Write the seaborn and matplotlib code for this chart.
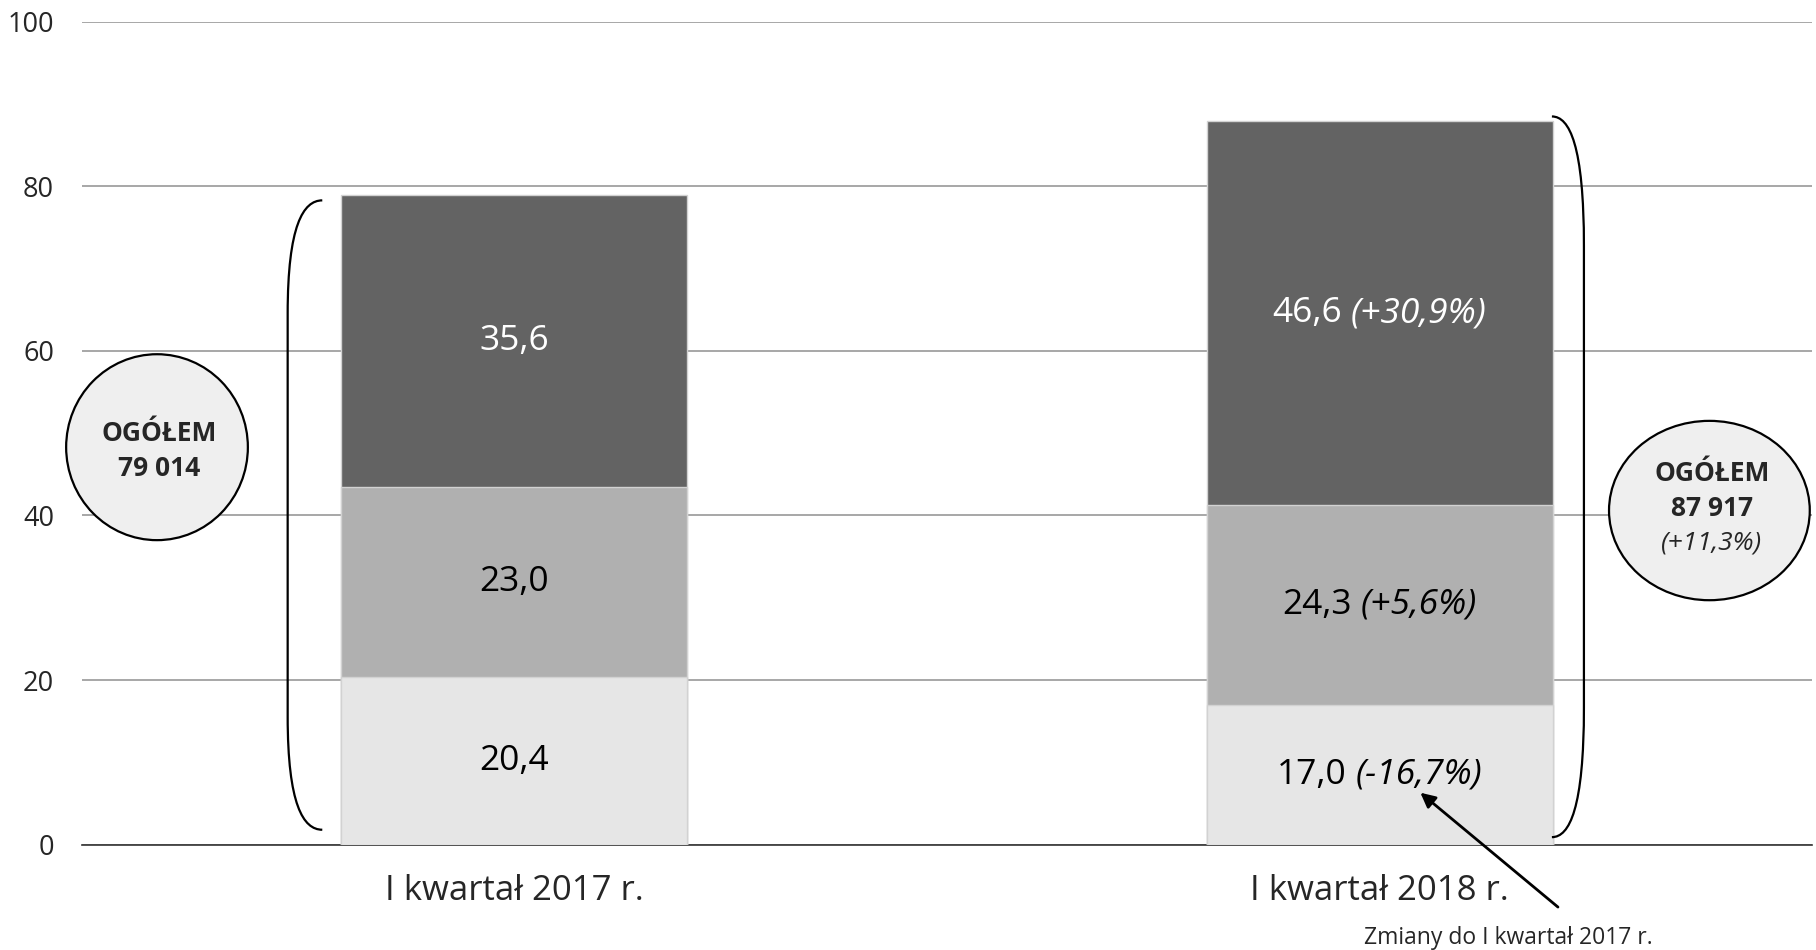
import numpy as np
import pandas as pd
import seaborn as sns
import matplotlib.pyplot as plt
from matplotlib.patches import Ellipse, PathPatch
from matplotlib.path import Path
from matplotlib.transforms import ScaledTranslation

# data (tys. osób / udział)
categories = ["I kwartał 2017 r.", "I kwartał 2018 r."]
bottom_vals = [20.4, 17.0]
middle_vals = [23.0, 24.3]
top_vals = [35.6, 46.6]
changes_bottom = [None, "(-16,7%)"]
changes_middle = [None, "(+5,6%)"]
changes_top = [None, "(+30,9%)"]
totals = ["79 014", "87 917"]
total_change = [None, "(+11,3%)"]
y_ticks = [0, 20, 40, 60, 80, 100]

colors = {"bottom": "#e6e6e6", "middle": "#b0b0b0", "top": "#636363"}

sns.set_style("white")
plt.rcParams["font.family"] = ["Open Sans", "DejaVu Sans"]

df = pd.DataFrame({
    "kat": categories,
    "dol": bottom_vals,
    "srodek": middle_vals,
    "gora": top_vals,
})
df["cum2"] = df["dol"] + df["srodek"]
df["cum3"] = df["cum2"] + df["gora"]

fig = plt.figure(figsize=(18.16, 9.5), dpi=100)
ax = fig.add_axes([0.045, 0.111, 0.953, 0.866])

# stacked bars drawn as overlapping cumulative bars
for col, c in [("cum3", colors["top"]), ("cum2", colors["middle"]), ("dol", colors["bottom"])]:
    sns.barplot(data=df, x="kat", y=col, color=c, width=0.4, ax=ax,
                edgecolor="#d2d2d2", linewidth=1, saturation=1, zorder=3)

ax.set_xlim(-0.5, 1.5)
ax.set_ylim(0, 100)
ax.set_yticks(y_ticks)
ax.set_xlabel("")
ax.set_ylabel("")
ax.grid(axis="y", color="#8f8f8f", linewidth=1.1, zorder=0)
ax.set_axisbelow(True)
for s in ["top", "right", "left"]:
    ax.spines[s].set_visible(False)
ax.spines["bottom"].set_color("#333333")
ax.spines["bottom"].set_linewidth(1.2)
ax.tick_params(axis="y", length=0, pad=20, labelsize=19.5)
ax.tick_params(axis="x", which="major", length=0, pad=21, labelsize=25)
ax.set_xticks([-0.5, 0.5, 1.5], minor=True)
ax.tick_params(axis="x", which="minor", length=8, width=1, color="#333333")

renderer = fig.canvas.get_renderer()


def mixed_text(x, y, parts, size, color):
    objs = []
    for s, style in parts:
        t = ax.text(x, y, s, fontsize=size, style=style, color=color,
                    ha="left", va="center", zorder=5)
        objs.append(t)
    widths = [t.get_window_extent(renderer).width for t in objs]
    gap = 0.24 * size * fig.dpi / 72
    total = sum(widths) + gap * (len(objs) - 1)
    off = -total / 2
    for t, w in zip(objs, widths):
        t.set_transform(ax.transData + ScaledTranslation(off / fig.dpi, 0, fig.dpi_scale_trans))
        off += w + gap


def fmt(v):
    return f"{v:.1f}".replace(".", ",")


for i in range(len(categories)):
    segs = [
        (bottom_vals[i] / 2, bottom_vals[i], changes_bottom[i], "black"),
        (bottom_vals[i] + middle_vals[i] / 2, middle_vals[i], changes_middle[i], "black"),
        (bottom_vals[i] + middle_vals[i] + top_vals[i] / 2, top_vals[i], changes_top[i], "white"),
    ]
    for ymid, v, ch, col in segs:
        parts = [(fmt(v), "normal")]
        if ch:
            parts.append((ch, "italic"))
        mixed_text(i, ymid, parts, 25.5, col)


def brace(x_left, x_right, top, bot, side="left"):
    h = top - bot
    w = x_right - x_left
    if side == "left":
        xo, xi = x_right, x_left
        c1 = x_left + 0.45 * w
    else:
        xo, xi = x_left, x_right
        c1 = x_right - 0.45 * w
    verts = [
        (xo, top), (c1, top), (xi, top - 0.04 * h), (xi, top - 0.18 * h),
        (xi, bot + 0.18 * h),
        (xi, bot + 0.04 * h), (c1, bot), (xo, bot),
    ]
    codes = [Path.MOVETO, Path.CURVE4, Path.CURVE4, Path.CURVE4,
             Path.LINETO, Path.CURVE4, Path.CURVE4, Path.CURVE4]
    ax.add_patch(PathPatch(Path(verts, codes), fill=False, edgecolor="black",
                           linewidth=1.6, zorder=4, clip_on=False))


brace(-0.262, -0.222, 78.3, 1.8, "left")
brace(1.199, 1.236, 88.5, 0.9, "right")

# circles with totals
circ_left = Ellipse((-0.413, 48.3), 0.21, 22.6, facecolor="#efefef",
                    edgecolor="black", linewidth=1.6, zorder=4, clip_on=False)
circ_right = Ellipse((1.381, 40.6), 0.232, 21.8, facecolor="#efefef",
                     edgecolor="black", linewidth=1.6, zorder=4, clip_on=False)
ax.add_patch(circ_left)
ax.add_patch(circ_right)

ax.text(-0.41, 50.0, "OGÓŁEM", fontsize=19, fontweight="bold", ha="center", va="center", zorder=5)
ax.text(-0.41, 45.7, totals[0], fontsize=19, fontweight="bold", ha="center", va="center", zorder=5)
ax.text(1.384, 45.1, "OGÓŁEM", fontsize=19, fontweight="bold", ha="center", va="center", zorder=5)
ax.text(1.384, 40.8, totals[1], fontsize=19, fontweight="bold", ha="center", va="center", zorder=5)
ax.text(1.384, 36.6, total_change[1], fontsize=19, style="italic", ha="center", va="center", zorder=5)

# arrow with note
ax.annotate("", xy=(1.047, 6.3), xytext=(1.206, -7.6),
            arrowprops=dict(arrowstyle="-|>", color="black", lw=2, mutation_scale=22,
                            shrinkA=0, shrinkB=0),
            annotation_clip=False, zorder=6)
ax.text(1.149, -11.4, "Zmiany do I kwartał 2017 r.", fontsize=16.5, ha="center",
        va="center", clip_on=False)

fig.savefig("out.png", dpi=100)
